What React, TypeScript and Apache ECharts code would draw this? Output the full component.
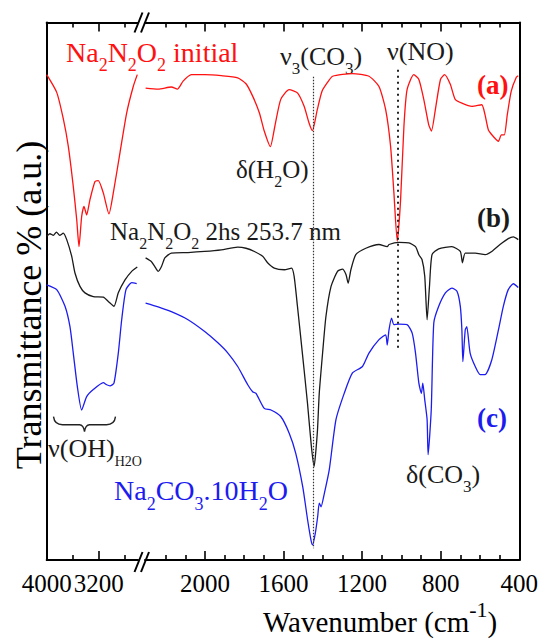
import React, { useEffect, useRef } from 'react';
import * as echarts from 'echarts';

const FONT = 'Liberation Serif';

// [wavenumber cm-1, transmittance a.u.]
const redLeft: [number, number][] = [
  [4000, 90.3], [3846, 87.0], [3745, 82.1], [3668, 77.0], [3591, 69.5], [3538, 63.3], [3503, 58.3],
  [3462, 63.9], [3426, 65.8], [3385, 64.2], [3335, 67.0], [3257, 70.4], [3206, 70.6], [3129, 68.3],
  [3042, 64.4], [2975, 68.3], [2872, 75.8], [2769, 83.2], [2668, 88.1], [2606, 90.3],
];
const blackLeft: [number, number][] = [
  [4000, 60.2], [3950, 60.7], [3898, 60.4], [3850, 61.0], [3800, 60.4], [3745, 60.8], [3692, 59.6],
  [3615, 56.5], [3565, 53.4], [3488, 50.9], [3411, 49.7], [3283, 49.0], [3129, 48.9], [3052, 48.1],
  [2965, 47.2], [2898, 49.7], [2795, 52.1], [2692, 53.7], [2606, 54.5],
];
const blueLeft: [number, number][] = [
  [4000, 51.2], [3846, 50.3], [3718, 47.2], [3642, 43.4], [3591, 38.5], [3529, 32.3], [3462, 27.9],
  [3385, 30.4], [3283, 31.7], [3129, 33.0], [3077, 32.6], [3026, 32.4], [2965, 32.9], [2898, 38.5],
  [2846, 44.7], [2780, 50.3], [2692, 51.6], [2615, 51.4],
];
const redRight: [number, number][] = [
  [2302, 87.8], [2238, 87.6], [2171, 88.0], [2140, 87.6], [2111, 89.1], [2069, 90.3], [2001, 90.3],
  [1917, 90.1], [1833, 89.7], [1791, 88.6], [1757, 86.3], [1723, 83.2], [1698, 79.8], [1667, 76.9],
  [1644, 80.7], [1614, 85.7], [1571, 87.5], [1529, 86.9], [1495, 84.4], [1470, 81.3], [1453, 79.9],
  [1428, 83.8], [1404, 87.2], [1377, 88.8], [1350, 90.0], [1249, 90.5], [1165, 90.0], [1114, 88.1],
  [1080, 83.8], [1055, 77.0], [1038, 68.3], [1021, 59.3], [1004, 67.0], [987, 80.7], [971, 87.5],
  [937, 90.3], [911, 89.4], [886, 85.7], [861, 81.0], [847, 79.8], [827, 83.8], [801, 89.4],
  [780, 90.3], [751, 88.5], [726, 85.7], [692, 85.0], [641, 84.4], [591, 84.7], [574, 82.8],
  [557, 80.0], [532, 78.8], [506, 77.9], [491, 79.1], [476, 79.1], [461, 82.8], [441, 87.2],
  [415, 89.8], [405, 90.1],
];
const blackRight: [number, number][] = [
  [2302, 56.2], [2272, 55.5], [2255, 54.6], [2238, 53.7], [2221, 54.6], [2204, 56.2], [2171, 57.1],
  [2086, 57.2], [2001, 57.4], [1917, 57.7], [1833, 58.2], [1791, 58.0], [1748, 57.4], [1706, 56.5],
  [1681, 55.3], [1647, 54.3], [1596, 54.0], [1559, 54.3], [1546, 52.8], [1529, 47.2], [1504, 38.5],
  [1478, 29.2], [1458, 21.1], [1444, 17.4], [1437, 19.6], [1427, 24.2], [1418, 31.0], [1401, 38.5],
  [1384, 45.3], [1358, 50.9], [1325, 53.7], [1300, 54.1], [1282, 53.1], [1271, 51.5], [1257, 54.0],
  [1232, 56.8], [1181, 58.0], [1114, 58.7], [1072, 58.3], [1063, 58.7], [1013, 59.1], [962, 59.0],
  [928, 58.3], [911, 56.8], [895, 55.9], [881, 52.8], [869, 44.7], [857, 50.9], [844, 56.8],
  [810, 57.9], [743, 58.3], [700, 57.4], [689, 55.3], [675, 57.1], [624, 57.1], [574, 56.8],
  [540, 57.4], [498, 58.7], [456, 59.8], [430, 60.1], [405, 59.6],
];
const blueRight: [number, number][] = [
  [2302, 47.8], [2238, 47.1], [2171, 46.2], [2086, 44.7], [2001, 42.5], [1934, 40.4], [1883, 38.5],
  [1833, 36.0], [1782, 32.6], [1757, 31.3], [1740, 31.0], [1698, 28.2], [1664, 27.9], [1614, 26.7],
  [1571, 23.6], [1538, 19.9], [1502, 13.6], [1477, 7.4], [1460, 3.7], [1452, 2.8], [1438, 5.0],
  [1426, 8.1], [1418, 10.6], [1409, 9.9], [1392, 12.4], [1367, 16.8], [1333, 26.1], [1291, 31.0],
  [1249, 34.8], [1198, 36.0], [1165, 38.5], [1114, 41.0], [1080, 41.9], [1072, 40.0], [1063, 42.8],
  [1050, 45.0], [1038, 43.8], [1013, 43.9], [971, 43.8], [945, 42.2], [928, 38.5], [911, 32.9],
  [898, 31.0], [891, 32.9], [881, 29.8], [869, 26.1], [864, 19.6], [848, 27.9], [835, 44.1],
  [810, 47.2], [776, 49.7], [743, 50.6], [717, 50.0], [700, 47.2], [692, 42.8], [687, 36.9],
  [675, 42.8], [667, 43.4], [650, 38.5], [624, 36.0], [599, 34.5], [574, 34.5], [540, 37.2],
  [506, 42.8], [481, 47.2], [456, 50.3], [430, 51.4], [405, 50.7],
];

const leftRange = { min: 2595, max: 4000 };
const rightRange = { min: 400, max: 2305 };
const leftTickLabels = [4000, 3200];
const leftMajorTicks = [3200];
const leftMinorTicks = [3600, 2800];
const rightTickLabels = [2000, 1600, 1200, 800, 400];
const rightMajorTicks = [2000, 1600, 1200, 800];
const rightMinorTicks = [2200, 2100, 1900, 1800, 1700, 1500, 1400, 1300, 1100, 1000, 900, 700, 600, 500];
// vertical dotted band markers: wavenumber, lower and upper transmittance
const co3Line = { wn: 1451, from: 2.2, to: 89.9 };
const noLine = { wn: 1021, from: 39.1, to: 91.2 };

const RED = '#ff1111';
const BLACK = '#1a1a1a';
const BLUE = '#1c1cf0';

const GRID_TOP = 22.5;
const GRID_H = 537.5;

function xAxis(gridIndex: number, position: 'top' | 'bottom', range: { min: number; max: number },
  ticks: number[], len: number, labels: number[] | null, line: boolean) {
  return {
    type: 'value', gridIndex, position, inverse: true, min: range.min, max: range.max,
    axisLine: { show: line, lineStyle: { color: '#000', width: 2 } },
    axisTick: { show: true, inside: true, length: len, customValues: ticks, lineStyle: { color: '#000', width: 1.6 } },
    axisLabel: labels ? {
      show: true, customValues: labels, margin: 11,
      formatter: (v: number) => String(v),
      color: '#000', fontSize: 25, fontFamily: FONT,
    } : { show: false },
    splitLine: { show: false },
  };
}

function yAxis(gridIndex: number, position: 'left' | 'right') {
  return {
    type: 'value', gridIndex, position, min: 0, max: 100,
    axisLine: { show: true, lineStyle: { color: '#000', width: 2 } },
    axisTick: { show: false }, axisLabel: { show: false }, splitLine: { show: false },
  };
}

function line(name: string, data: [number, number][], xi: number, yi: number, color: string, extra: any = {}) {
  return {
    type: 'line', name, data, xAxisIndex: xi, yAxisIndex: yi, showSymbol: false, symbol: 'none',
    smooth: 0.2, lineStyle: { color, width: 1.3 }, silent: true, ...extra,
  };
}

function label(x: number, baseline: number, fs: number, ss: number, lh: number, text: string, color: string) {
  const top = baseline - lh / 2 - 0.3375 * fs;
  return {
    type: 'text', x, y: top, silent: true,
    style: {
      text, fill: color, align: 'left', verticalAlign: 'top',
      rich: {
        n: { fontSize: fs, lineHeight: lh, fontFamily: FONT, verticalAlign: 'middle' },
        s: { fontSize: ss, lineHeight: ss, fontFamily: FONT, verticalAlign: 'bottom' },
        u: { fontSize: ss, lineHeight: ss, fontFamily: FONT, verticalAlign: 'top' },
      },
    },
  };
}

function tag(x: number, y: number, text: string, color: string) {
  return {
    type: 'text', x, y, silent: true,
    style: { text, fill: color, fontFamily: FONT, fontSize: 27, fontWeight: 'bold', align: 'left', verticalAlign: 'middle' },
  };
}

function slashes(y: number) {
  return [138.5, 145].map((cx) => ({
    type: 'line', silent: true,
    shape: { x1: cx - 4, y1: y + 10, x2: cx + 4, y2: y - 10 },
    style: { stroke: '#000', lineWidth: 2 },
  }));
}

echarts.graphic.registerShape('brace', echarts.graphic.extendPath(
  'M0 0 Q1 8 9 8 L26 8 Q30 8 31 15 Q32 8 36 8 L53 8 Q61 8 62 0', {}) as any);

export default function App() {
  const ref = useRef<HTMLDivElement>(null);
  useEffect(() => {
    document.body.style.margin = '0';
    const chart = echarts.init(ref.current!, null, { renderer: 'svg' });
    chart.setOption({
      animation: false,
      textStyle: { fontFamily: FONT },
      grid: [
        { left: 46.7, top: GRID_TOP, width: 91.3, height: GRID_H },
        { left: 145, top: GRID_TOP, width: 375, height: GRID_H },
      ],
      xAxis: [
        xAxis(0, 'bottom', leftRange, leftMajorTicks, 9, leftTickLabels, true),
        xAxis(0, 'bottom', leftRange, leftMinorTicks, 5, null, false),
        xAxis(0, 'top', leftRange, leftMajorTicks, 9, null, true),
        xAxis(0, 'top', leftRange, leftMinorTicks, 5, null, false),
        xAxis(1, 'bottom', rightRange, rightMajorTicks, 9, rightTickLabels, true),
        xAxis(1, 'bottom', rightRange, rightMinorTicks, 5, null, false),
        xAxis(1, 'top', rightRange, rightMajorTicks, 9, null, true),
        xAxis(1, 'top', rightRange, rightMinorTicks, 5, null, false),
      ],
      yAxis: [yAxis(0, 'left'), yAxis(1, 'right')],
      series: [
        line('Na2N2O2 initial', redLeft, 0, 0, RED),
        line('Na2N2O2 2hs 253.7 nm', blackLeft, 0, 0, BLACK),
        line('Na2CO3.10H2O', blueLeft, 0, 0, BLUE),
        line('Na2N2O2 initial ', redRight, 4, 1, RED),
        line('Na2N2O2 2hs 253.7 nm ', blackRight, 4, 1, BLACK),
        line('Na2CO3.10H2O ', blueRight, 4, 1, BLUE, {
          markLine: {
            silent: true, symbol: 'none', label: { show: false },
            data: [
              [{ coord: [co3Line.wn, co3Line.to], lineStyle: { type: [1.5, 1.5], color: '#333', width: 1.2 } },
               { coord: [co3Line.wn, co3Line.from] }],
              [{ coord: [noLine.wn, noLine.to], lineStyle: { type: [2, 4], color: '#222', width: 2 } },
               { coord: [noLine.wn, noLine.from] }],
            ],
          },
        }),
      ],
      graphic: [
        ...slashes(GRID_TOP),
        ...slashes(GRID_TOP + GRID_H + 2),
        label(66, 61.7, 28, 18, 44, '{n|Na}{s|2}{n|N}{s|2}{n|O}{s|2}{n| initial}', RED),
        label(280, 65, 26, 17, 42, '{n|ν}{s|3}{n|(CO}{s|3}{n|)}', BLACK),
        label(387, 60, 26, 17, 42, '{n|ν(NO)}', BLACK),
        label(236, 178, 25, 16, 40, '{n|δ(H}{s|2}{n|O)}', BLACK),
        label(110, 240, 25, 16, 40, '{n|Na}{s|2}{n|N}{s|2}{n|O}{s|2}{n| 2hs 253.7 nm}', BLACK),
        label(48, 457, 26, 14, 40, '{n|ν(OH)}{s|H2O}', BLACK),
        label(114, 500, 28, 18, 44, '{n|Na}{s|2}{n|CO}{s|3}{n|.10H}{s|2}{n|O}', BLUE),
        label(406, 483, 26, 17, 42, '{n|δ(CO}{s|3}{n|)}', BLACK),
        label(263, 632, 29, 22, 48, '{n|Wavenumber (cm}{u|-1}{n|)}', '#000'),
        tag(477, 85, '(a)', RED),
        tag(477, 218, '(b)', BLACK),
        tag(477, 418, '(c)', BLUE),
        {
          type: 'brace', x: 53.5, y: 416.7, silent: true,
          style: { stroke: '#222', fill: 'none', lineWidth: 1.4 },
        },
        {
          type: 'text', x: 29, y: 305, rotation: Math.PI / 2, silent: true,
          style: {
            text: 'Transmittance % (a.u.)', fill: '#000', fontFamily: FONT, fontSize: 36,
            align: 'center', verticalAlign: 'middle',
          },
        },
      ],
    });
    return () => chart.dispose();
  }, []);
  return <div ref={ref} style={{ width: 541, height: 639 }} />;
}
